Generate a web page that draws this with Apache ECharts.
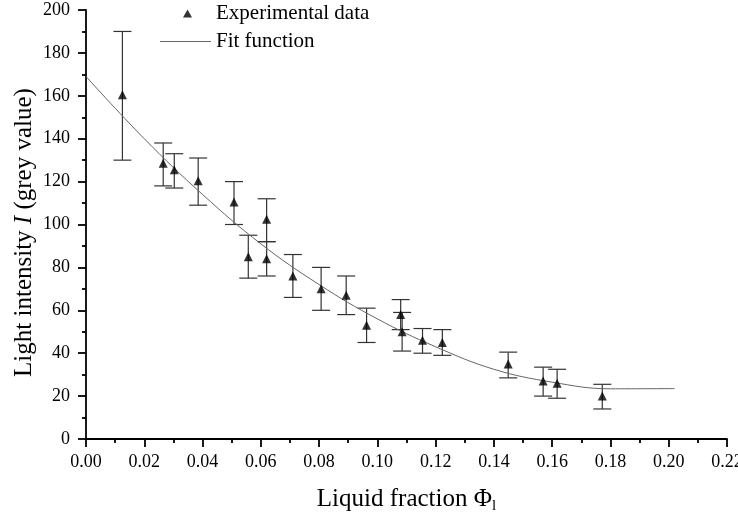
<!DOCTYPE html>
<html>
<head>
<meta charset="utf-8">
<script src="https://cdn.jsdelivr.net/npm/echarts@6/dist/echarts.min.js"></script>
<style>
  html, body { margin: 0; padding: 0; background: #fff; }
  #chart { width: 738px; height: 518px; }
</style>
</head>
<body>
<div id="chart"></div>
<script>
// measured points (liquid fraction, grey value) and error bar ends
const phi = [0.0125, 0.0265, 0.0303, 0.0385, 0.0508, 0.0557, 0.062, 0.062, 0.071, 0.0807,
             0.0893, 0.0963, 0.108, 0.1085, 0.1155, 0.1223, 0.1449, 0.1569, 0.1617, 0.1772];
const intensity = [160.5, 128.5, 125.5, 120.4, 110.5, 85, 102.5, 84, 76, 70,
                   67, 53, 58, 50, 46, 45, 35, 27, 26, 20];
const errLow = [130, 118, 117, 109, 100, 75, 92, 76, 66, 60,
                58, 45, 51, 41, 40, 39, 28.5, 20, 19, 14];
const errHigh = [190, 138, 133, 131, 120, 95, 112, 92, 86, 80,
                 76, 61, 65, 59, 51.5, 51, 40.5, 33.5, 32.5, 25.5];

// fit curve
const fitX = [0, 0.02, 0.04, 0.06, 0.08, 0.10, 0.12, 0.14, 0.16, 0.18, 0.202];
const fitY = [169, 140, 114, 91, 72, 56, 43, 32.5, 26.5, 23.4, 23.5];

const xTicks = { min: 0, max: 0.22, step: 0.02 };
const yTicks = { min: 0, max: 200, step: 20 };

const chart = echarts.init(document.getElementById('chart'));
const FONT = '"Liberation Serif", "DejaVu Serif", serif';

const points = phi.map((x, i) => [x, intensity[i]]);
const bars = phi.map((x, i) => [x, errLow[i], errHigh[i]]);
const fit = fitX.map((x, i) => [x, fitY[i]]);

function renderErrorBar(params, api) {
    const x = api.value(0);
    const top = api.coord([x, api.value(2)]);
    const bot = api.coord([x, api.value(1)]);
    const w = 9;
    const style = { stroke: '#333', lineWidth: 1.2 };
    return {
        type: 'group',
        children: [
            { type: 'line', shape: { x1: top[0], y1: top[1], x2: bot[0], y2: bot[1] }, style: style },
            { type: 'line', shape: { x1: top[0] - w, y1: top[1], x2: top[0] + w, y2: top[1] }, style: style },
            { type: 'line', shape: { x1: bot[0] - w, y1: bot[1], x2: bot[0] + w, y2: bot[1] }, style: style }
        ]
    };
}

const axisLine = { show: true, lineStyle: { color: '#000', width: 1.8 } };
const axisTick = { show: true, inside: false, length: 8, lineStyle: { color: '#000', width: 1.8 } };
const minorTick = { show: true, splitNumber: 2, length: 4, lineStyle: { color: '#000', width: 1.8 } };

const option = {
    backgroundColor: '#fff',
    animation: false,
    grid: { left: 86, right: 11, top: 10, bottom: 79, outerBoundsMode: 'none', containLabel: false },
    legend: [
        {
            data: ['Experimental data'],
            left: 183, top: 3, padding: 0,
            itemWidth: 9, itemHeight: 8,
            textStyle: { fontFamily: FONT, fontSize: 21, color: '#000', padding: [0, 0, 0, 19] }
        },
        {
            data: [{ name: 'Fit function', icon: 'rect' }],
            left: 160, top: 31, padding: 0,
            itemWidth: 51, itemHeight: 1,
            textStyle: { fontFamily: FONT, fontSize: 21, color: '#000' }
        }
    ],
    xAxis: {
        type: 'value',
        min: xTicks.min, max: xTicks.max, interval: xTicks.step,
        name: '{n|Liquid fraction Φ}{s|l}',
        nameLocation: 'middle',
        nameGap: 46,
        nameMoveOverlap: false,
        nameTextStyle: {
            rich: {
                n: { fontFamily: FONT, fontSize: 25, color: '#000' },
                s: { fontFamily: FONT, fontSize: 15, color: '#000', padding: [14, 0, 0, 0] }
            }
        },
        axisLine: axisLine,
        axisTick: axisTick,
        minorTick: minorTick,
        splitLine: { show: false },
        axisLabel: {
            fontFamily: FONT, fontSize: 18, color: '#000', margin: 14,
            formatter: v => v.toFixed(2)
        }
    },
    yAxis: {
        type: 'value',
        min: yTicks.min, max: yTicks.max, interval: yTicks.step,
        name: '{n|Light intensity }{i|I}{n| (grey value)}',
        nameLocation: 'middle',
        nameGap: 49,
        nameRotate: 90,
        nameMoveOverlap: false,
        nameTextStyle: {
            padding: [0, 16, 0, 0],
            rich: {
                n: { fontFamily: FONT, fontSize: 25, color: '#000' },
                i: { fontFamily: FONT, fontSize: 25, color: '#000', fontStyle: 'italic' }
            }
        },
        axisLine: axisLine,
        axisTick: axisTick,
        minorTick: minorTick,
        splitLine: { show: false },
        axisLabel: { fontFamily: FONT, fontSize: 18, color: '#000', margin: 16 }
    },
    series: [
        {
            name: 'error',
            type: 'custom',
            renderItem: renderErrorBar,
            encode: { x: 0, y: [1, 2] },
            data: bars,
            z: 2
        },
        {
            name: 'Fit function',
            type: 'line',
            data: fit,
            smooth: 0.4,
            symbol: 'none',
            lineStyle: { color: '#666', width: 1 },
            itemStyle: { color: '#666' },
            z: 3
        },
        {
            name: 'Experimental data',
            type: 'scatter',
            data: points,
            symbol: 'triangle',
            symbolSize: 9,
            itemStyle: { color: '#000' },
            z: 4
        }
    ]
};

chart.setOption(option);
window.addEventListener('resize', function () {
    chart.resize();
});
</script>
</body>
</html>
